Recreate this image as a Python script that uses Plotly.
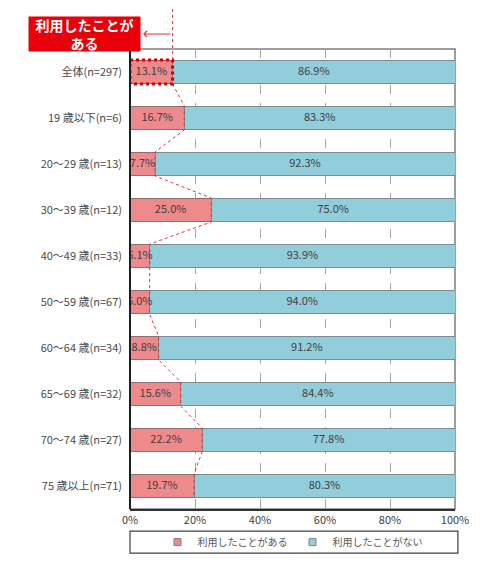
import plotly.graph_objects as go

# data
categories = ["全体(n=297)", "19 歳以下(n=6)", "20～29 歳(n=13)", "30～39 歳(n=12)",
              "40～49 歳(n=33)", "50～59 歳(n=67)", "60～64 歳(n=34)", "65～69 歳(n=32)",
              "70～74 歳(n=27)", "75 歳以上(n=71)"]
used = [13.1, 16.7, 7.7, 25.0, 6.1, 6.0, 8.8, 15.6, 22.2, 19.7]
not_used = [86.9, 83.3, 92.3, 75.0, 93.9, 94.0, 91.2, 84.4, 77.8, 80.3]
series_names = ["利用したことがある", "利用したことがない"]
x_ticks = [0, 20, 40, 60, 80, 100]
callout = "利用したことが<br>ある"

PINK = "#EE8A8C"
BLUE = "#92CDDC"
FONT = "Noto Sans CJK JP"
TXT = "#404040"
bw = 0.52
ypos = list(range(len(categories)))

fig = go.Figure()

fig.add_trace(go.Bar(
    name=series_names[0], y=ypos, x=used, orientation="h", width=bw, showlegend=False,
    marker=dict(color=PINK, line=dict(color="#8A7070", width=1)),
))
fig.add_trace(go.Bar(
    name=series_names[1], y=ypos, x=not_used, orientation="h", width=bw, showlegend=False,
    marker=dict(color=BLUE, line=dict(color="#7F8A8F", width=1)),
))

# small square legend keys like the original
for name, col in zip(series_names, [PINK, BLUE]):
    fig.add_trace(go.Scatter(
        x=[None], y=[None], mode="markers", name=name,
        marker=dict(symbol="square", size=7, color=col, line=dict(color="#808080", width=1)),
    ))

# connector lines along the ends of the pink bars
lx, ly = [], []
for i, v in enumerate(used):
    lx += [v, v]
    ly += [i - bw / 2, i + bw / 2]
fig.add_trace(go.Scatter(
    x=lx, y=ly, mode="lines", showlegend=False, hoverinfo="skip",
    line=dict(color="#E03030", width=1, dash="dot"),
))

# value labels
fig.add_trace(go.Scatter(
    x=[v / 2 for v in used], y=ypos, mode="text", showlegend=False,
    text=[f"{v:.1f}%" for v in used], textfont=dict(family=FONT, size=11, color=TXT),
))
fig.add_trace(go.Scatter(
    x=[u + (100 - u) / 2 for u in used], y=ypos, mode="text", showlegend=False,
    text=[f"{v:.1f}%" for v in not_used], textfont=dict(family=FONT, size=11, color=TXT),
))

shapes = [
    # plot frame
    dict(type="rect", xref="paper", yref="paper", x0=0, x1=1, y0=0, y1=1,
         line=dict(color="#7F7F7F", width=1.5), layer="below"),
    # highlight on the total bar
    dict(type="rect", xref="x", yref="y", x0=0, x1=used[0], y0=-bw / 2, y1=bw / 2,
         line=dict(color="#D00000", width=3, dash="dot")),
    # vertical dotted marker line
    dict(type="line", xref="x", yref="paper", x0=used[0], x1=used[0],
         y0=0.976, y1=1.1, line=dict(color="#E03030", width=1, dash="dot")),
    # legend box
    dict(type="rect", xref="paper", yref="paper", x0=0, x1=1.009, y0=-0.048, y1=-0.096,
         line=dict(color="#404040", width=1.2)),
]

# the page adds an 8px body margin, so the figure is 8px smaller each way
fig.update_layout(
    width=481, height=564,
    margin=dict(l=122, r=34, t=41, b=63, autoexpand=False),
    paper_bgcolor="white", plot_bgcolor="white",
    barmode="stack", bargap=0.48,
    font=dict(family=FONT, size=11, color=TXT),
    shapes=shapes,
    showlegend=True,
    legend=dict(orientation="h", x=0.5, xanchor="center", y=-0.072, yanchor="middle",
                font=dict(family=FONT, size=10, color="#595959"),
                bgcolor="rgba(0,0,0,0)", itemwidth=30, traceorder="normal"),
    annotations=[
        dict(xref="paper", yref="paper", x=-0.14, y=1.0326, xanchor="center", yanchor="middle",
             text=callout, showarrow=False,
             bgcolor="#E8000A", font=dict(family=FONT, size=14, color="white", weight="bold"),
             width=111, height=34, borderpad=0),
        dict(xref="x", yref="paper", x=used[0] - 9.1, y=1.0326, ax=29, ay=0,
             text="", showarrow=True,
             arrowhead=4, arrowsize=1.2, arrowwidth=1, arrowcolor="#E03030"),
    ],
)

fig.update_xaxes(
    range=[0, 100], tickvals=x_ticks, ticktext=[f"{t}%" for t in x_ticks],
    showgrid=True, gridcolor="#A6A6A6", griddash="dash", gridwidth=1,
    showline=True, linecolor="#303030", linewidth=1.5, automargin=False,
    ticks="", zeroline=False, tickfont=dict(size=11, color="#404040"),
)
fig.update_yaxes(
    range=[len(categories) - 0.5, -0.5], tickvals=ypos, ticktext=categories,
    showgrid=False, zeroline=False, showline=False, ticks="", automargin=False,
    tickfont=dict(size=11, color="#4A4A4A"), ticklabelstandoff=7,
)
# black left axis line
fig.add_shape(type="line", xref="paper", yref="paper", x0=0, x1=0, y0=0, y1=1,
              line=dict(color="#202020", width=2))

fig.write_html("out.html")
